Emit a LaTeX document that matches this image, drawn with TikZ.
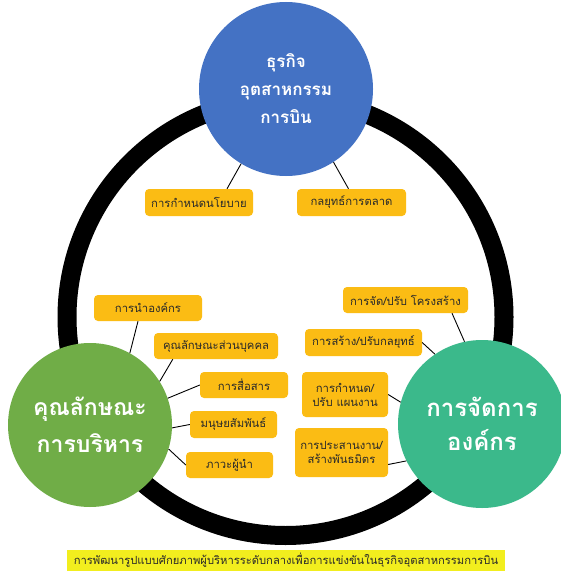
\documentclass[tikz,border=0pt]{standalone}
\usepackage{fontspec}
\newfontfamily\thai[Script=Thai]{Loma}
\definecolor{cblue}{HTML}{4472C4}
\definecolor{cgreen}{HTML}{70AD47}
\definecolor{cteal}{HTML}{3BB98B}
\definecolor{cbox}{HTML}{FBBC14}
\definecolor{ccap}{HTML}{F2EE1E}
\definecolor{ctext}{HTML}{2A2A2A}
\tikzset{
  bigcirc/.style={circle, inner sep=0pt, text=white, align=center, font=\thai\bfseries},
  pbox/.style={rounded corners=4pt, fill=cbox, inner sep=0pt, text=ctext, align=center,
    font=\thai\fontsize{11.3}{14}\selectfont},
  conn/.style={line width=0.9pt, black},
}
\begin{document}
\begin{tikzpicture}[x=1pt,y=-1pt]
\useasboundingbox (0,0) rectangle (560,572);
\fill[white] (0,0) rectangle (560,572);
% ring
\draw[line width=19pt, black] (285.5,317) circle (218.5pt);
% circles
\node[bigcirc, fill=cblue, minimum size=174pt, font=\thai\bfseries\fontsize{17}{28}\selectfont] (blue) at (286,89) {ธุรกิจ\\อุตสาหกรรม\\การบิน};
\node[bigcirc, fill=cgreen, minimum size=164pt, font=\thai\bfseries\fontsize{23}{37}\selectfont] (green) at (90,425) {คุณลักษณะ\\การบริหาร};
\node[bigcirc, fill=cteal, minimum size=168pt, font=\thai\bfseries\fontsize{24}{34}\selectfont] (teal) at (482,424) {การจัดการ\\องค์กร};
% boxes
\node[pbox, minimum width=108pt, minimum height=27pt] (p1) at (199,202.5) {การกำหนดนโยบาย};
\node[pbox, minimum width=109pt, minimum height=27pt] (p2) at (351.5,202.5) {กลยุทธ์การตลาด};
\node[pbox, minimum width=108pt, minimum height=26pt] (l1) at (148,308) {การนำองค์กร};
\node[pbox, minimum width=124pt, minimum height=26pt] (l2) at (216,346) {คุณลักษณะส่วนบุคคล};
\node[pbox, minimum width=88pt, minimum height=26pt] (l3) at (244,385) {การสื่อสาร};
\node[pbox, minimum width=87pt, minimum height=27pt] (l4) at (233.5,424.5) {มนุษยสัมพันธ์};
\node[pbox, minimum width=87pt, minimum height=26pt] (l5) at (229.5,465) {ภาวะผู้นำ};
\node[pbox, minimum width=125pt, minimum height=26pt] (r1) at (405.5,300) {การจัด/ปรับ โครงสร้าง};
\node[pbox, minimum width=117pt, minimum height=27pt] (r2) at (363.5,342.5) {การสร้าง/ปรับกลยุทธ์};
\node[pbox, minimum width=86pt, minimum height=45pt] (r3) at (345,394.5) {การกำหนด/\\ปรับ แผนงาน};
\node[pbox, minimum width=93pt, minimum height=49pt] (r4) at (341.5,452.5) {การประสานงาน/\\สร้างพันธมิตร};
% connectors
\draw[conn] ([xshift=28pt]p1.north) -- (blue.239);
\draw[conn] ([xshift=-3pt]p2.north) -- (blue.303);
\draw[conn] ([xshift=-10pt]l1.south) -- (green.61);
\draw[conn] ([xshift=19pt]l2.south west) -- (green.32);
\draw[conn] (l3.west) -- (green.19);
\draw[conn] (l4.west) -- (green.-2);
\draw[conn] (l5.west) -- (green.-17);
\draw[conn] ([xshift=46.5pt]r1.south) -- (teal.102);
\draw[conn] (r2.east) -- (teal.124);
\draw[conn] (r3.east) -- (teal.165);
\draw[conn] ([yshift=-12pt]r4.east) -- (teal.206);
% caption
\node[fill=ccap, minimum width=438pt, minimum height=21pt, inner sep=0pt, text=ctext,
  font=\thai\fontsize{11.2}{12}\selectfont] (cap) at (286,560.5)
  {การพัฒนารูปแบบศักยภาพผู้บริหารระดับกลางเพื่อการแข่งขันในธุรกิจอุตสาหกรรมการบิน};
\end{tikzpicture}
\end{document}
